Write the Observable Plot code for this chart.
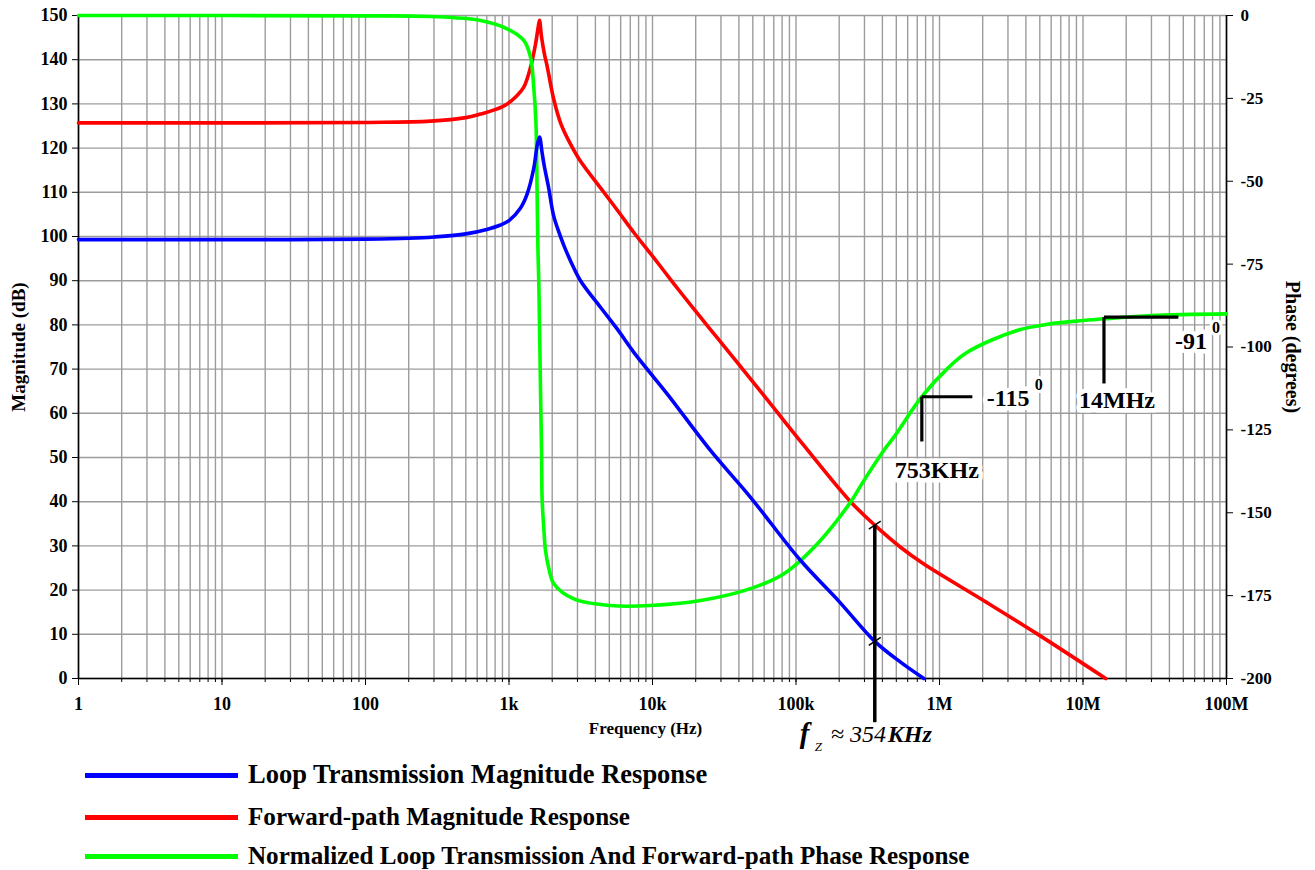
<!DOCTYPE html>
<html>
<head>
<meta charset="utf-8">
<script src="https://cdn.jsdelivr.net/npm/d3@7"></script>
<script src="https://cdn.jsdelivr.net/npm/@observablehq/plot@0.6"></script>
<style>
  body { margin: 0; background: #fff; font-family: "Liberation Serif", "Times New Roman", serif; }
  #wrap { position: relative; width: 1315px; height: 870px; }
  #legend { position: absolute; left: 0; top: 760px; width: 1315px; height: 110px; }
  .swatch { position: absolute; left: 85px; width: 153px; height: 5px; }
  .lbl { position: absolute; left: 248px; font-weight: bold; white-space: nowrap; line-height: 1; transform: translateY(-52%); color: #000; }
</style>
</head>
<body>
<div id="wrap"><div id="chart"></div><div id="legend"></div></div>
<script>
// Loop transmission magnitude (dB) vs frequency (Hz)
const loopFreq = [1, 30, 100, 200, 300, 500, 700, 873, 1000, 1200, 1337, 1489, 1570, 1632, 1700, 1760, 1885, 2050, 2250, 2410, 2700, 3150, 4340, 5675, 7410, 12650, 25350, 48200, 107000, 200000, 354000, 535000, 778000];
const loopDb   = [99.3, 99.3, 99.4, 99.6, 99.9, 100.6, 101.6, 102.6, 103.6, 106.4, 109.6, 115.5, 120.5, 122.5, 119.0, 116.0, 111.2, 104.6, 100.6, 98.0, 94.3, 90.0, 84.0, 79.1, 73.8, 64.4, 51.6, 41.0, 26.8, 17.4, 8.4, 3.7, 0];

// Forward-path magnitude (dB)
const fwdFreq = [1, 100, 284, 500, 633, 800, 971, 1130, 1268, 1413, 1530, 1600, 1632, 1680, 1760, 1845, 2052, 2300, 2683, 3150, 4340, 5675, 7410, 10200, 14100, 19400, 28200, 41000, 63000, 113000, 240000, 354000, 535000, 778000, 2040000, 4790000, 14400000];
const fwdDb   = [125.7, 125.8, 126.1, 126.9, 127.7, 128.7, 130.0, 131.8, 133.8, 138.3, 143.5, 147.5, 148.9, 145.5, 141.5, 138.5, 131.0, 125.5, 120.9, 117.0, 111.0, 106.0, 100.9, 95.2, 89.3, 83.6, 77.1, 70.6, 63.1, 52.8, 40.0, 34.7, 29.7, 25.9, 17.6, 10.1, 0];

// Normalized phase (degrees), shared by loop transmission and forward path
const phaseFreq = [1, 100, 284, 633, 971, 1268, 1413, 1489, 1540, 1570, 1590, 1614, 1658, 1685, 1702, 1750, 1796, 1900, 2052, 2830, 5095, 9680, 21600, 48200, 82300, 140600, 240000, 297000, 409000, 481000, 753000, 1130000, 1560000, 3470000, 5940000, 10100000, 14000000, 30000000, 100000000];
const phaseDeg  = [0, -0.1, -0.3, -1.5, -4.0, -7.5, -12.6, -22, -32, -54, -70, -81, -113, -131, -146, -155, -161.4, -167, -171.4, -176.0, -178.0, -178.0, -176.5, -172.9, -168.4, -159.4, -146.8, -140.3, -131.2, -127.2, -115, -106.6, -101.6, -95.0, -93.0, -92.0, -91.5, -90.5, -90.0];

// Axis ticks
const xTickValues = [1, 10, 100, 1e3, 1e4, 1e5, 1e6, 1e7, 1e8];
const xTickLabels = ["1", "10", "100", "1k", "10k", "100k", "1M", "10M", "100M"];
const magTicks = [0, 10, 20, 30, 40, 50, 60, 70, 80, 90, 100, 110, 120, 130, 140, 150];
const phaseTicks = [0, -25, -50, -75, -100, -125, -150, -175, -200];

// Annotated points
const fzFreq = 354000, fzFwdDb = 34.7, fzLoopDb = 8.4, fzLineEndDb = -10;
const pmFreq = 753000, pmDeg = -115;
const hfFreq = 14e6, hfDeg = -91;

// Phase axis (0° .. -200°) is laid over the magnitude frame (150 dB .. 0 dB)
const toMag = p => 150 + p * 0.75;

const gridFreqs = [];
for (let d = 1; d < 1e8; d *= 10) for (let k = 1; k <= 9; k++) gridFreqs.push(k * d);
gridFreqs.push(1e8);

const xLabelOf = new Map(xTickValues.map((v, i) => [v, xTickLabels[i]]));
const phaseLabelOf = new Map(phaseTicks.map(p => [toMag(p), String(p)]));

const loop = loopFreq.map((f, i) => ({f, v: loopDb[i]}));
const fwd = fwdFreq.map((f, i) => ({f, v: fwdDb[i]}));
const phase = phaseFreq.map((f, i) => ({f, v: toMag(phaseDeg[i])}));

const grid = "#9c9c9c";
const serif = "'Liberation Serif', 'Times New Roman', serif";

const crossMarks = [fzFwdDb, fzLoopDb].map(v => ({x1: fzFreq / 1.1, x2: fzFreq * 1.1, y1: v - 0.9, y2: v + 0.9}));
const brackets = [
  {x1: pmFreq, y1: toMag(pmDeg), x2: pmFreq * 2.25, y2: toMag(pmDeg)},
  {x1: pmFreq, y1: toMag(pmDeg), x2: pmFreq, y2: toMag(pmDeg - 13.5)},
  {x1: hfFreq, y1: toMag(hfDeg), x2: hfFreq * 3.3, y2: toMag(hfDeg)},
  {x1: hfFreq, y1: toMag(hfDeg), x2: hfFreq, y2: toMag(hfDeg - 20)}
];

const halo = {fill: "#000", stroke: "#fff", strokeWidth: 9};

const chart = Plot.plot({
  width: 1315,
  height: 760,
  marginLeft: 78,
  marginRight: 89,
  marginTop: 15,
  marginBottom: 82,
  style: {fontFamily: serif, fontSize: "18px", fontWeight: "bold", background: "#fff", color: "#000", overflow: "visible"},
  x: {type: "log", domain: [1, 1e8], label: null},
  y: {domain: [0, 150], label: null},
  marks: [
    Plot.ruleX(gridFreqs, {stroke: grid, strokeWidth: 1.4}),
    Plot.ruleY(magTicks, {stroke: grid, strokeWidth: 1.4}),
    Plot.ruleX([1, 1e8], {stroke: "#000", strokeWidth: 1.6}),
    Plot.ruleY([0], {stroke: "#000", strokeWidth: 1.6}),

    Plot.axisY(magTicks, {anchor: "left", tickSize: 6, tickPadding: 5, label: null, fontSize: 18}),
    Plot.axisY(phaseTicks.map(toMag), {anchor: "right", tickSize: 6, tickPadding: 8, label: null, fontSize: 17, tickFormat: d => phaseLabelOf.get(d)}),
    Plot.axisX(gridFreqs, {anchor: "bottom", tickSize: 4, label: null, tickFormat: () => ""}),
    Plot.axisX(xTickValues, {anchor: "bottom", tickSize: 7, tickPadding: 12, label: null, fontSize: 18, tickFormat: d => xLabelOf.get(d)}),

    Plot.line(fwd, {x: "f", y: "v", stroke: "#ff0000", strokeWidth: 3.6, curve: "catmull-rom"}),
    Plot.line(phase, {x: "f", y: "v", stroke: "#00ff00", strokeWidth: 3.6, curve: "catmull-rom"}),
    Plot.line(loop, {x: "f", y: "v", stroke: "#0000ff", strokeWidth: 3.6, curve: "catmull-rom"}),

    // f_Z marker
    Plot.ruleX([fzFreq], {y1: fzLineEndDb, y2: fzFwdDb, stroke: "#000", strokeWidth: 3.5}),
    Plot.link(crossMarks, {x1: "x1", x2: "x2", y1: "y1", y2: "y2", stroke: "#000", strokeWidth: 1.5}),
    Plot.text(["f"], {x: fzFreq, frameAnchor: "bottom", dx: -75, dy: 64, textAnchor: "start", fontSize: 29, fontStyle: "italic", fontWeight: "bold"}),
    Plot.text(["Z"], {x: fzFreq, frameAnchor: "bottom", dx: -60, dy: 72, textAnchor: "start", fontSize: 13, fontStyle: "italic", fontWeight: "normal"}),
    Plot.text(["≈ 354"], {x: fzFreq, frameAnchor: "bottom", dx: -44, dy: 63, textAnchor: "start", fontSize: 24, fontStyle: "italic", fontWeight: "normal"}),
    Plot.text(["KHz"], {x: fzFreq, frameAnchor: "bottom", dx: 13, dy: 63, textAnchor: "start", fontSize: 24, fontStyle: "italic", fontWeight: "bold"}),

    // phase brackets and labels
    Plot.link(brackets, {x1: "x1", x2: "x2", y1: "y1", y2: "y2", stroke: "#000", strokeWidth: 3.2}),
    Plot.text([String(pmDeg)], {x: pmFreq, y: toMag(pmDeg), dx: 65, dy: 2, textAnchor: "start", fontSize: 24, ...halo}),
    Plot.text(["0"], {x: pmFreq, y: toMag(pmDeg), dx: 113, dy: -12, textAnchor: "start", fontSize: 16, ...halo, strokeWidth: 6}),
    Plot.text(["753KHz"], {x: pmFreq, y: toMag(pmDeg), dx: 15, dy: 74, fontSize: 24, ...halo}),
    Plot.text([String(hfDeg)], {x: hfFreq, y: toMag(hfDeg), dx: 71, dy: 24, textAnchor: "start", fontSize: 24, ...halo}),
    Plot.text(["0"], {x: hfFreq, y: toMag(hfDeg), dx: 108, dy: 11, textAnchor: "start", fontSize: 16, ...halo, strokeWidth: 6}),
    Plot.text(["14MHz"], {x: hfFreq, y: toMag(hfDeg), dx: 13, dy: 83, fontSize: 24, ...halo}),

    // axis titles
    Plot.text(["Magnitude (dB)"], {frameAnchor: "left", textAnchor: "middle", dx: -60, rotate: -90, fontSize: 19}),
    Plot.text(["Phase (degrees)"], {frameAnchor: "right", textAnchor: "middle", dx: 66, rotate: 90, fontSize: 20}),
    Plot.text(["Frequency (Hz)"], {frameAnchor: "bottom", textAnchor: "middle", dx: -7, dy: 55, fontSize: 17})
  ]
});
document.getElementById("chart").append(chart);

// Legend below the plot
const legendItems = [
  {label: "Loop Transmission Magnitude Response", color: "#0000ff", y: 15, size: 26.5},
  {label: "Forward-path Magnitude Response", color: "#ff0000", y: 57, size: 25.1},
  {label: "Normalized Loop Transmission And Forward-path Phase Response", color: "#00ff00", y: 96, size: 25.1}
];
const legend = document.getElementById("legend");
for (const item of legendItems) {
  const sw = document.createElement("div");
  sw.className = "swatch";
  sw.style.top = (item.y - 2.5) + "px";
  sw.style.background = item.color;
  legend.append(sw);
  const t = document.createElement("div");
  t.className = "lbl";
  t.style.top = item.y + "px";
  t.style.fontSize = item.size + "px";
  t.textContent = item.label;
  legend.append(t);
}
</script>
</body>
</html>
